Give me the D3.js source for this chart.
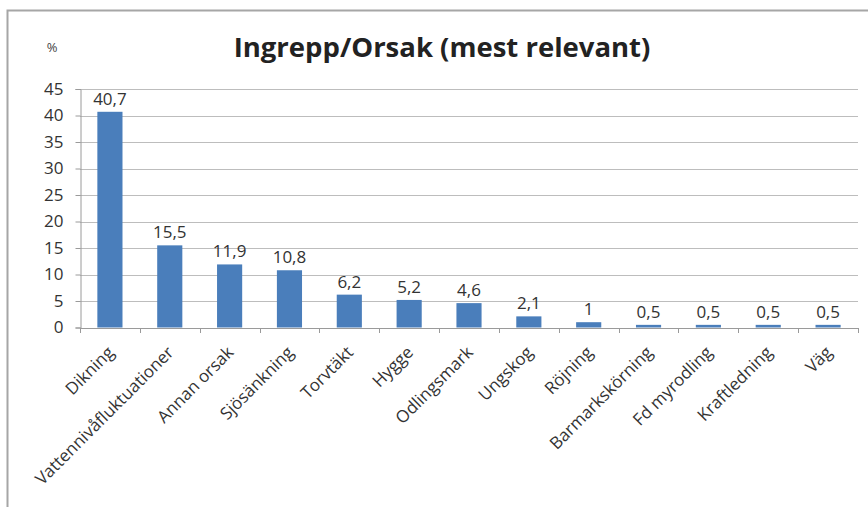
<!DOCTYPE html>
<html>
<head>
<meta charset="utf-8">
<script src="https://cdn.jsdelivr.net/npm/d3@7"></script>
<style>
  html, body { margin: 0; padding: 0; background: #fff; }
  svg { display: block; font-family: "Open Sans", "Noto Sans", sans-serif; }
</style>
</head>
<body>
<svg id="chart" width="868" height="507"></svg>
<script>
// Categories and their share (%)
const categories = ["Dikning", "Vattennivåfluktuationer", "Annan orsak", "Sjösänkning", "Torvtäkt",
  "Hygge", "Odlingsmark", "Ungskog", "Röjning", "Barmarkskörning", "Fd myrodling", "Kraftledning", "Väg"];
const values = [40.7, 15.5, 11.9, 10.8, 6.2, 5.2, 4.6, 2.1, 1, 0.5, 0.5, 0.5, 0.5];
const yTicks = [0, 5, 10, 15, 20, 25, 30, 35, 40, 45];
const titleText = "Ingrepp/Orsak (mest relevant)";
const unitText = "%";

const svg = d3.select("#chart");
const W = 868, H = 507;
const plot = { left: 80, right: 858, top: 89, bottom: 327.5 };

// chart frame (left and top edges)
svg.append("path")
  .attr("d", `M7.5,${H} V10.5 H${W}`)
  .attr("fill", "none").attr("stroke", "#a6a6a6").attr("stroke-width", 2);

const x = d3.scaleBand().domain(categories).range([plot.left, plot.right]).paddingInner(0.58).paddingOuter(0.29);
const y = d3.scaleLinear().domain([0, 45]).range([plot.bottom, plot.top]);

// horizontal gridlines
svg.append("g").selectAll("line").data(yTicks.filter(d => d > 0)).join("line")
  .attr("x1", plot.left).attr("x2", plot.right)
  .attr("y1", d => Math.round(y(d)) + 0.5).attr("y2", d => Math.round(y(d)) + 0.5)
  .attr("stroke", "#bdbdbd").attr("stroke-width", 1);

// y axis
const yAxis = svg.append("g").attr("transform", `translate(${plot.left + 0.5},0)`)
  .call(d3.axisLeft(y).tickValues(yTicks).tickSize(5).tickPadding(12).tickFormat(d3.format("d")));
yAxis.select(".domain").attr("stroke", "#9a9a9a");
yAxis.selectAll(".tick line").attr("stroke", "#9a9a9a");
yAxis.selectAll(".tick text").attr("font-size", 17).attr("fill", "#333").attr("font-family", "Open Sans, sans-serif");

// x axis baseline and category boundary ticks
const step = x.step();
const bounds = d3.range(categories.length + 1).map(i => plot.left + i * step);
svg.append("line").attr("x1", plot.left).attr("x2", plot.right)
  .attr("y1", Math.round(plot.bottom) + 0.5).attr("y2", Math.round(plot.bottom) + 0.5)
  .attr("stroke", "#9a9a9a");
svg.append("g").selectAll("line").data(bounds).join("line")
  .attr("x1", d => Math.round(d) + 0.5).attr("x2", d => Math.round(d) + 0.5)
  .attr("y1", Math.round(plot.bottom)).attr("y2", Math.round(plot.bottom) + 5)
  .attr("stroke", "#9a9a9a");

// bars
svg.append("g").selectAll("rect").data(values).join("rect")
  .attr("x", (d, i) => x(categories[i]))
  .attr("width", x.bandwidth())
  .attr("y", d => y(d))
  .attr("height", d => y(0) - y(d))
  .attr("fill", "#4a7ebb");

// value labels
const fmt = v => String(v).replace(".", ",");
svg.append("g").selectAll("text").data(values).join("text")
  .attr("x", (d, i) => x(categories[i]) + x.bandwidth() / 2)
  .attr("y", d => y(d) - 7)
  .attr("text-anchor", "middle").attr("font-size", 17).attr("fill", "#333")
  .text(d => fmt(d));

// category labels, rotated
svg.append("g").selectAll("text").data(categories).join("text")
  .attr("transform", d => `translate(${x(d) + x.bandwidth() / 2 + 5},${plot.bottom + 26}) rotate(-45)`)
  .attr("text-anchor", "end").attr("font-size", 17).attr("fill", "#333")
  .text(d => d);

// title and unit
svg.append("text").attr("x", 442).attr("y", 57).attr("text-anchor", "middle")
  .attr("font-size", 27.5).attr("font-weight", "bold").attr("fill", "#222")
  .text(titleText);
svg.append("text").attr("x", 52).attr("y", 52).attr("text-anchor", "middle")
  .attr("font-size", 13).attr("fill", "#444").text(unitText);
</script>
</body>
</html>
